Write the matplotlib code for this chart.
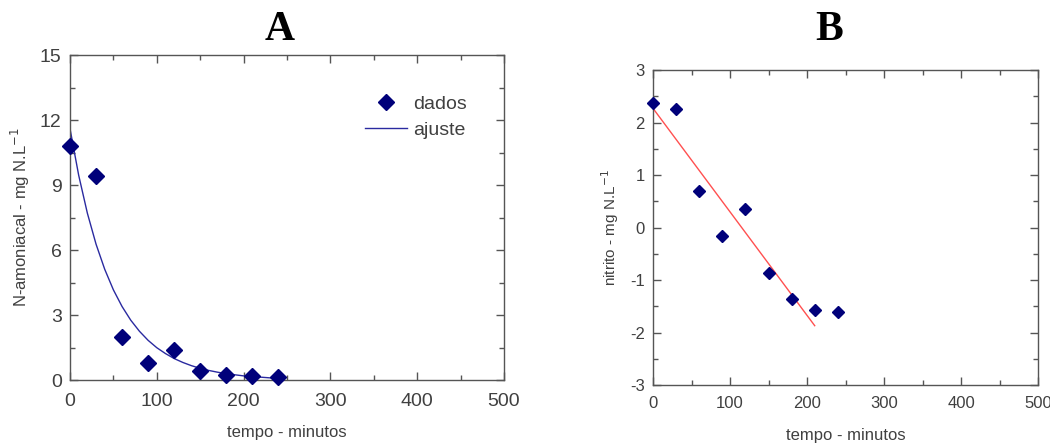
import matplotlib
matplotlib.use("Agg")
import matplotlib.pyplot as plt
from matplotlib.ticker import MultipleLocator

plt.rcParams['font.family'] = ['Liberation Sans', 'DejaVu Sans']
plt.rcParams['axes.unicode_minus'] = False

# Panel A data
t_a = [0, 30, 60, 90, 120, 150, 180, 210, 240]
n_amon = [10.8, 9.4, 2.0, 0.8, 1.4, 0.4, 0.25, 0.2, 0.15]
t_fit_a = [0, 10, 20, 30, 40, 50, 60, 70, 80, 90, 100, 110, 120, 130, 140, 150,
           160, 170, 180, 190, 200, 210, 220, 230, 240]
fit_a = [11.6, 9.45, 7.7, 6.27, 5.11, 4.16, 3.39, 2.76, 2.25, 1.83, 1.49, 1.22,
         0.99, 0.81, 0.66, 0.54, 0.44, 0.36, 0.29, 0.24, 0.19, 0.16, 0.13, 0.10, 0.085]

# Panel B data
t_b = [0, 30, 60, 90, 120, 150, 180, 210, 240]
nitrito = [2.38, 2.25, 0.70, -0.16, 0.36, -0.87, -1.37, -1.58, -1.60]
t_fit_b = [0, 210]
fit_b = [2.27, -1.87]

navy = '#00007a'
tick_col = '#404040'
spine_col = '#555555'

fig = plt.figure(figsize=(10.5, 4.44), dpi=100)
W, H = 1050, 444

def style(ax, xmaj, xmin, ymaj, ymin, fs, xpad):
    ax.xaxis.set_major_locator(MultipleLocator(xmaj))
    ax.xaxis.set_minor_locator(MultipleLocator(xmin))
    ax.yaxis.set_major_locator(MultipleLocator(ymaj))
    ax.yaxis.set_minor_locator(MultipleLocator(ymin))
    ax.tick_params(which='both', direction='in', top=True, right=True,
                   colors=spine_col, labelcolor=tick_col, labelsize=fs, width=1)
    ax.tick_params(which='major', length=6, pad=6)
    ax.tick_params(axis='x', which='major', pad=xpad)
    ax.tick_params(which='minor', length=3.5)
    for s in ax.spines.values():
        s.set_color(spine_col)
        s.set_linewidth(1)

# Panel A
axA = fig.add_axes([70 / W, 1 - 380 / H, (504 - 70) / W, (380 - 55) / H])
axA.plot(t_fit_a, fit_a, color='#2a2aa0', lw=1.0, label='ajuste', zorder=2)
axA.plot(t_a, n_amon, linestyle='none', marker='D', ms=8.5, color=navy,
         label='dados', zorder=3, clip_on=False)
axA.set_xlim(0, 500)
axA.set_ylim(0, 15)
style(axA, 100, 50, 3, 1.5, 14, 9)
axA.set_xlabel('tempo - minutos', fontsize=12, color=tick_col, labelpad=11)
axA.set_ylabel('N-amoniacal - mg N.L$^{-1}$', fontsize=12, color=tick_col, labelpad=6)
handles, labels = axA.get_legend_handles_labels()
axA.legend(handles[::-1], labels[::-1], loc='upper right', bbox_to_anchor=(0.955, 0.93),
           frameon=False, fontsize=14, handlelength=2.2, labelspacing=0.45,
           handletextpad=0.3, labelcolor=tick_col)
fig.text(280 / W, 1 - 30 / H, 'A', ha='center', va='center', fontsize=30,
         fontweight='bold', family='Liberation Serif')

# Panel B
axB = fig.add_axes([653 / W, 1 - 385 / H, (1038 - 653) / W, (385 - 70) / H])
axB.plot(t_fit_b, fit_b, color='#ff5050', lw=1.0, zorder=2)
axB.plot(t_b, nitrito, linestyle='none', marker='D', ms=6, color=navy,
         zorder=3, clip_on=False)
axB.set_xlim(0, 500)
axB.set_ylim(-3, 3)
style(axB, 100, 50, 1, 0.5, 12, 8)
axB.set_xlabel('tempo - minutos', fontsize=12, color=tick_col, labelpad=12)
axB.set_ylabel('nitrito - mg N.L$^{-1}$', fontsize=11, color=tick_col, labelpad=6)
fig.text(829 / W, 1 - 30 / H, 'B', ha='center', va='center', fontsize=30,
         fontweight='bold', family='Liberation Serif')

fig.savefig('out.png', dpi=100)
